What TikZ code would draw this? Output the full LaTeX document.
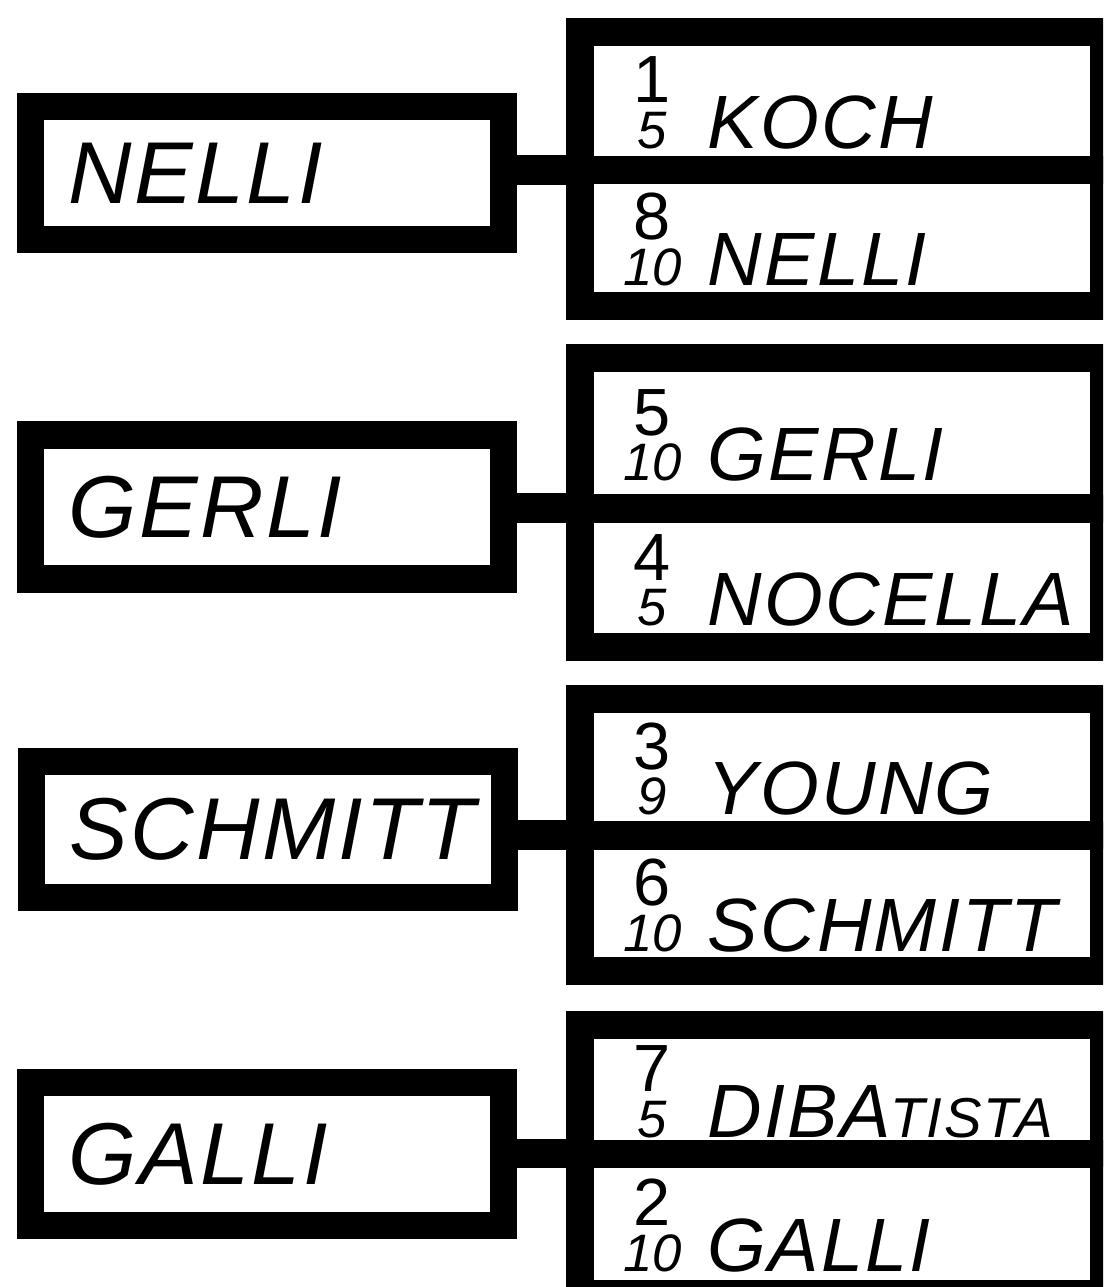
\documentclass[tikz,border=0pt]{standalone}
\usepackage{fontspec}
\setmainfont{Liberation Sans}
\newfontfamily\handfont[LetterSpace=3]{Liberation Sans}
\newfontfamily\leftfont[LetterSpace=3]{Liberation Sans}
\usetikzlibrary{calc}
\newcommand\numfont{\normalfont\fontsize{38}{38}\selectfont}
\newcommand\denfont{\normalfont\itshape\fontsize{30}{30}\selectfont}
% score: numerator over denominator, then the name
\newcommand\score[3]{\mbox{\makebox[1.3cm]{\denfont #2}\llap{\makebox[1.3cm]{\raisebox{0.92cm}{\numfont #1}}}\hspace{0.45cm}#3}}

\begin{document}
\begin{tikzpicture}[x=0.02cm, y=-0.02cm,
  namebox/.style={draw=black, line width=0.55cm, outer sep=0pt, inner sep=0pt,
    minimum width=9.46cm, text width=7.96cm, align=left,
    font=\leftfont\itshape\fontsize{50}{50}\selectfont},
  scorecell/.style={draw=black, line width=0.56cm, outer sep=0pt, inner sep=0pt,
    minimum width=10.48cm, text width=8.88cm, align=left,
    text height=1.92cm, text depth=0cm,
    font=\handfont\itshape\fontsize{43}{43}\selectfont},
  link/.style={draw=black, line width=0.6cm}]

\clip (0,0) rectangle (1103,1287);

% NELLI
\node[namebox, minimum height=2.67cm] (nelli) at (267,173) {NELLI};
\node[scorecell, minimum height=2.75cm] (koch) at (842,101) {\score{1}{5}{KOCH}};
\node[scorecell, minimum height=2.71cm] (nelliB) at (842,238) {\score{8}{10}{NELLI}};
\draw[link] (koch.south west -| nelli.east) -- (koch.south west);

% GERLI
\node[namebox, minimum height=2.89cm] (gerli) at (267,507) {GERLI};
\node[scorecell, minimum height=3.02cm] (gerliB) at (842,433) {\score{5}{10}{GERLI}};
\node[scorecell, minimum height=2.78cm] (nocella) at (842,578) {\score{4}{5}{NOCELLA}};
\draw[link] (gerliB.south west -| gerli.east) -- (gerliB.south west);

% SCHMITT
\node[namebox, minimum height=2.72cm] (schmitt) at (268,829.5) {SCHMITT};
\node[scorecell, minimum height=2.74cm] (young) at (842,767) {\score{3}{9}{YOUNG}};
\node[scorecell, minimum height=2.72cm] (schmittB) at (842,903.5) {\score{6}{10}{SCHMITT}};
\draw[link] (young.south west -| schmitt.east) -- (young.south west);

% GALLI
\node[namebox, minimum height=2.86cm] (galli) at (267,1154) {GALLI};
\node[scorecell, minimum height=2.58cm] (dibatista) at (842,1089) {\score{7}{5}{DIBA{\fontsize{32}{32}\selectfont TISTA}}};
\node[scorecell, minimum height=2.81cm] (galliB) at (842,1223.75) {\score{2}{10}{GALLI}};
\draw[link] (dibatista.south west -| galli.east) -- (dibatista.south west);

\end{tikzpicture}
\end{document}
